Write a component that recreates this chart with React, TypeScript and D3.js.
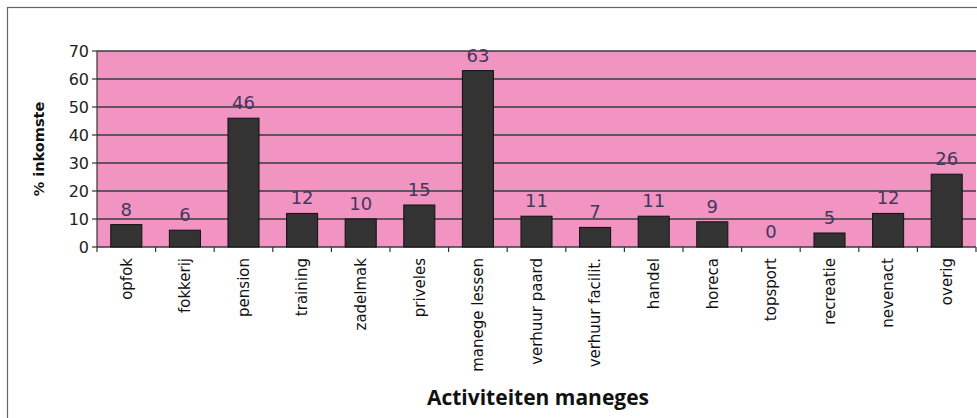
import React from "react";
import * as d3 from "d3";

const categories = ["opfok", "fokkerij", "pension", "training", "zadelmak", "priveles", "manege lessen", "verhuur paard", "verhuur facilit.", "handel", "horeca", "topsport", "recreatie", "nevenact", "overig"];
const values = [8, 6, 46, 12, 10, 15, 63, 11, 7, 11, 9, 0, 5, 12, 26];
const yTicks = [0, 10, 20, 30, 40, 50, 60, 70];
const yTitle = "% inkomste";
const xTitle = "Activiteiten maneges";

export default function App() {
  const W = 977, H = 418;
  const left = 97, right = 976, top = 51, bottom = 247;
  const x = d3.scaleBand<string>().domain(categories).range([left, right]).paddingInner(0.47).paddingOuter(0.235);
  const xc = d3.scaleBand<string>().domain(categories).range([left, right]);
  const y = d3.scaleLinear().domain([0, 70]).range([bottom, top]);
  const font = "'DejaVu Sans', Verdana, sans-serif";
  return (
    <svg width={W} height={H} style={{ position: "absolute", left: 0, top: 0, display: "block", background: "#fff" }}>
      <rect x={7.5} y={7.5} width={W + 10} height={H + 10} fill="none" stroke="#666" strokeWidth={1.2} />
      <rect x={left} y={top} width={right - left} height={bottom - top} fill="#f194c1" />
      {yTicks.map((t) => (
        <g key={t}>
          <line x1={left} x2={right} y1={y(t)} y2={y(t)} stroke="#3a3a3a" strokeWidth={1.4} />
          <line x1={left - 5} x2={left} y1={y(t)} y2={y(t)} stroke="#333" strokeWidth={1.2} />
          <text x={left - 8} y={y(t)} dy="0.35em" textAnchor="end" fontFamily={font} fontSize={16} fill="#222">{t}</text>
        </g>
      ))}
      <line x1={left} x2={left} y1={top} y2={bottom} stroke="#333" strokeWidth={1.2} />
      {categories.map((c) => (
        <line key={"t" + c} x1={xc(c)!} x2={xc(c)!} y1={bottom} y2={bottom + 5} stroke="#333" strokeWidth={1.2} />
      ))}
      <line x1={right} x2={right} y1={bottom} y2={bottom + 5} stroke="#333" strokeWidth={1.2} />
      {categories.map((c, i) => (
        <g key={c}>
          <rect x={x(c)!} y={y(values[i])} width={x.bandwidth()} height={bottom - y(values[i])} fill="#333333" stroke="#111" strokeWidth={1} />
          <text x={x(c)! + x.bandwidth() / 2} y={y(values[i]) - 9} textAnchor="middle" fontFamily={font} fontSize={18} fill="#45375e">{values[i]}</text>
          <text transform={`translate(${xc(c)! + xc.bandwidth() / 2},${bottom + 11}) rotate(-90)`} dy="0.35em" textAnchor="end" fontFamily={font} fontSize={15} fill="#111">{c}</text>
        </g>
      ))}
      <text transform={`translate(39,${(top + bottom) / 2}) rotate(-90)`} dy="0.35em" textAnchor="middle" fontFamily={font} fontWeight="bold" fontSize={14.5} fill="#111">{yTitle}</text>
      <text x={538} y={405} textAnchor="middle" fontFamily="'Open Sans', 'DejaVu Sans', sans-serif" fontWeight="bold" fontSize={21} fill="#111">{xTitle}</text>
    </svg>
  );
}
